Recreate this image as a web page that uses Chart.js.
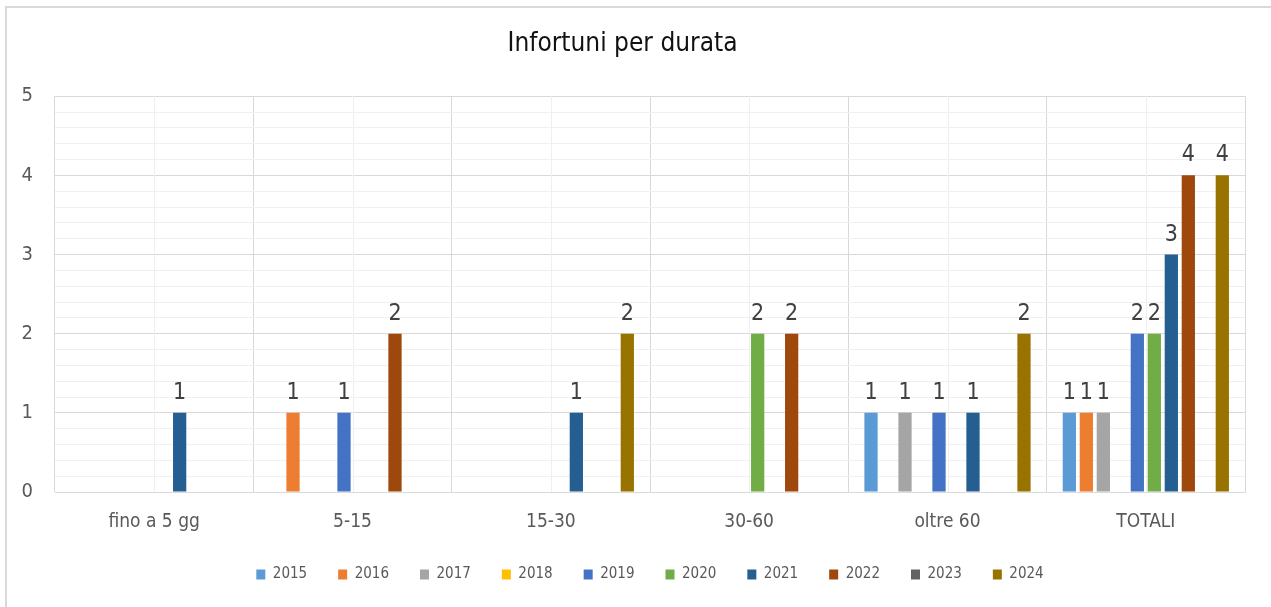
<!DOCTYPE html>
<html>
<head>
<meta charset="utf-8">
<title>Infortuni per durata</title>
<script src="https://cdn.jsdelivr.net/npm/chart.js@4"></script>
<style>
  html, body { margin: 0; padding: 0; background: #fff; }
  #wrap { position: relative; width: 1271px; height: 607px; overflow: hidden; }
  #frame { position: absolute; left: 5px; top: 6px; width: 1400px; height: 700px;
           border-left: 2px solid #d9d9d9; border-top: 2px solid #d9d9d9; }
  canvas { position: absolute; left: 0; top: 0; }
</style>
</head>
<body>
<div id="wrap">
  <div id="frame"></div>
  <canvas id="durataChart" width="1271" height="607"></canvas>
</div>
<script>
const categories = ["fino a 5 gg", "5-15", "15-30", "30-60", "oltre 60", "TOTALI"];
const years = ["2015", "2016", "2017", "2018", "2019", "2020", "2021", "2022", "2023", "2024"];
const colors = ["#5b9bd5", "#ed7d31", "#a5a5a5", "#ffc000", "#4472c4", "#70ad47", "#255e91", "#9e480e", "#636363", "#997300"];

// values per year, one entry per category
const v2015 = [0, 0, 0, 0, 1, 1];
const v2016 = [0, 1, 0, 0, 0, 1];
const v2017 = [0, 0, 0, 0, 1, 1];
const v2018 = [0, 0, 0, 0, 0, 0];
const v2019 = [0, 1, 0, 0, 1, 2];
const v2020 = [0, 0, 0, 2, 0, 2];
const v2021 = [1, 0, 1, 0, 1, 3];
const v2022 = [0, 2, 0, 2, 0, 4];
const v2023 = [0, 0, 0, 0, 0, 0];
const v2024 = [0, 0, 2, 0, 2, 4];
const values = [v2015, v2016, v2017, v2018, v2019, v2020, v2021, v2022, v2023, v2024];

const yMax = 5;
const FONT = "'Liberation Sans Narrow', 'Arial Narrow', 'DejaVu Sans Condensed', 'Liberation Sans', sans-serif";

// light vertical lines in the middle of each category
const minorVertical = {
  id: "minorVertical",
  beforeDatasetsDraw(chart) {
    const ctx = chart.ctx;
    const x = chart.scales.x;
    const area = chart.chartArea;
    ctx.save();
    ctx.strokeStyle = "#efefef";
    ctx.lineWidth = 1;
    for (let i = 0; i < categories.length; i++) {
      const px = Math.round(x.getPixelForValue(i)) + 0.5;
      ctx.beginPath();
      ctx.moveTo(px, area.top);
      ctx.lineTo(px, area.bottom);
      ctx.stroke();
    }
    ctx.restore();
  }
};

// value labels above the non-zero bars
const barLabels = {
  id: "barLabels",
  afterDatasetsDraw(chart) {
    const ctx = chart.ctx;
    ctx.save();
    ctx.font = "23px " + FONT;
    ctx.fillStyle = "#404040";
    ctx.textAlign = "center";
    ctx.textBaseline = "alphabetic";
    chart.data.datasets.forEach((ds, di) => {
      const meta = chart.getDatasetMeta(di);
      meta.data.forEach((bar, i) => {
        const val = ds.data[i];
        if (val > 0) ctx.fillText(String(val), bar.x, bar.y - 14);
      });
    });
    ctx.restore();
  }
};

const isInt = (v) => Math.abs(v - Math.round(v)) < 1e-6;

const ctx = document.getElementById("durataChart").getContext("2d");
const durataChart = new Chart(ctx, {
  type: "bar",
  data: {
    labels: categories,
    datasets: years.map((y, i) => ({
      label: y,
      data: values[i],
      backgroundColor: colors[i],
      borderWidth: 0,
      categoryPercentage: 0.857,
      barPercentage: 0.78
    }))
  },
  options: {
    responsive: false,
    animation: false,
    layout: { padding: { left: 0, right: 26, top: 29, bottom: 15 } },
    plugins: {
      title: {
        display: true,
        text: "Infortuni per durata",
        color: "#111",
        font: { family: FONT, size: 26, weight: "normal" },
        padding: { top: 0, bottom: 36 }
      },
      legend: {
        position: "bottom",
        fullSize: false,
        labels: {
          boxWidth: 9,
          boxHeight: 10,
          padding: 31,
          color: "#595959",
          font: { family: FONT, size: 15 }
        }
      },
      tooltip: { enabled: false }
    },
    scales: {
      x: {
        afterFit(scale) { scale.height = 44; },
        grid: { offset: true, color: "#d9d9d9", drawTicks: false },
        border: { color: "#d9d9d9" },
        ticks: { color: "#595959", padding: 19, font: { family: FONT, size: 19 } }
      },
      y: {
        min: 0,
        max: yMax,
        afterFit(scale) { scale.width = 55; },
        border: { display: false },
        grid: {
          drawTicks: false,
          color: (c) => (isInt(c.tick.value) ? "#d9d9d9" : "#f0f0f0")
        },
        ticks: {
          stepSize: 0.2,
          autoSkip: false,
          padding: 22,
          color: "#595959",
          font: { family: FONT, size: 20 },
          callback: (v) => (isInt(v) ? String(Math.round(v)) : "")
        }
      }
    }
  },
  plugins: [minorVertical, barLabels]
});
</script>
</body>
</html>
